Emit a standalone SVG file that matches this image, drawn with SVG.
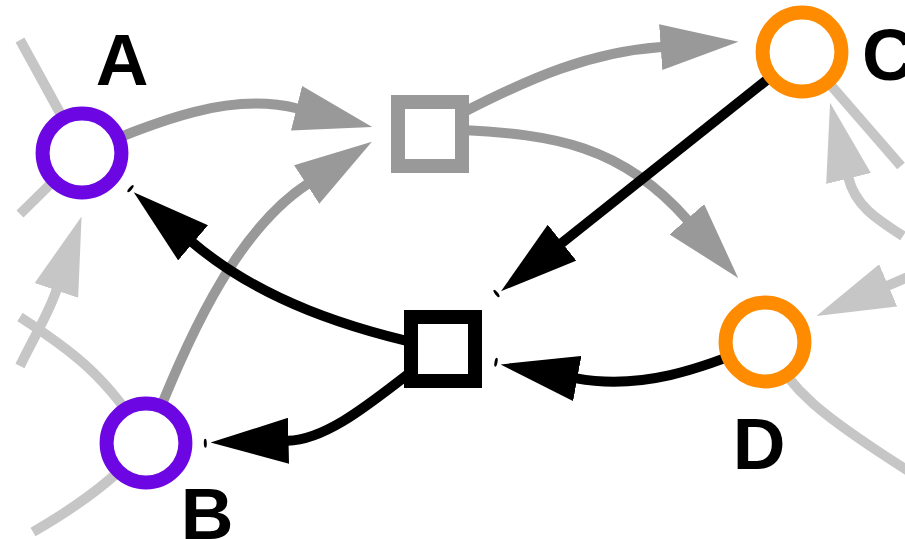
<svg xmlns="http://www.w3.org/2000/svg" width="905" height="539" viewBox="0 0 905 539">
<style>
.e{fill:none;stroke-width:10;stroke-linecap:butt}
.g{stroke:#999999}
.l{stroke:#c6c6c6}
.k{stroke:#000000}
.ring{fill:#ffffff;stroke-width:14}
.p{stroke:#6c06e3}
.o{stroke:#ff8c00}
.sq{fill:#ffffff;stroke-width:14}
.lbl{font-family:"Liberation Sans",Arial,sans-serif;font-weight:bold;font-size:73px;fill:#000000}
</style>
<defs>
<marker id="ag" viewBox="0 0 78 46" markerWidth="78" markerHeight="46" refX="1" refY="23" orient="auto" markerUnits="userSpaceOnUse"><path d="M0,0 L78,23 L0,46 Z" fill="#999999"/></marker>
<marker id="al" viewBox="0 0 78 46" markerWidth="78" markerHeight="46" refX="1" refY="23" orient="auto" markerUnits="userSpaceOnUse"><path d="M0,0 L78,23 L0,46 Z" fill="#c6c6c6"/></marker>
<marker id="ak" viewBox="0 0 78 46" markerWidth="78" markerHeight="46" refX="1" refY="23" orient="auto" markerUnits="userSpaceOnUse"><path d="M0,0 L78,23 L0,46 Z" fill="#000000"/></marker>
</defs>
<g id="connectors">
<path class="e l" d="M20,40 L82,153"/>
<path class="e l" d="M20,214 L82,153"/>
<path class="e l" d="M20,366 C35,335 48,315 56.7,289.5" marker-end="url(#al)"/>
<path class="e l" d="M20,317 C60,343 110,375 146,443"/>
<path class="e l" d="M146,443 C120,475 80,505 33,532"/>
<path class="e l" d="M802,52 L901,166"/>
<path class="e l" d="M903,236 C875,218 855,205 848.3,177.5" marker-end="url(#al)"/>
<path class="e l" d="M915,274 L887.3,285.8" marker-end="url(#al)"/>
<path class="e l" d="M765,342 C790,390 820,415 910,472"/>
<path class="e g" d="M82,153 C160,120 230,91.7 297.5,108.5" marker-end="url(#ag)"/>
<path class="e g" d="M146,443 C180,360 227.5,236.5 307.5,184" marker-end="url(#ag)"/>
<path class="e g" d="M462,113 C530,78 590,52 661.7,47" marker-end="url(#ag)"/>
<path class="e g" d="M462,130 C552,134.5 621.7,144.7 687.5,220" marker-end="url(#ag)"/>
<path class="e k" d="M802,52 L561.3,243.3" marker-end="url(#ak)"/>
<path class="e k" d="M765,342 C700,370 640,390 576.3,378.3" marker-end="url(#ak)"/>
<path class="e k" d="M443,349 C350,330 260,300 192.3,242.2" marker-end="url(#ak)"/>
<path class="e k" d="M443,349 C395,380 337,439.7 287.5,440.8" marker-end="url(#ak)"/>
<ellipse cx="130.5" cy="188.7" rx="1.5" ry="4.5" transform="rotate(-139.5 130.5 188.7)" fill="#000"/>
<ellipse cx="205.3" cy="443.3" rx="1.5" ry="4.5" transform="rotate(178.5 205.3 443.3)" fill="#000"/>
<ellipse cx="496.5" cy="293.5" rx="1.5" ry="4.5" transform="rotate(141.6 496.5 293.5)" fill="#000"/>
<ellipse cx="496" cy="362.2" rx="1.5" ry="4.5" transform="rotate(-169.3 496 362.2)" fill="#000"/>
</g>
<g id="node-A"><circle class="ring p" cx="82" cy="153" r="39.4"/><text class="lbl" x="122" y="85" text-anchor="middle">A</text></g>
<g id="node-B"><circle class="ring p" cx="146" cy="443" r="39.4"/><text class="lbl" x="207" y="539" text-anchor="middle">B</text></g>
<g id="node-C"><circle class="ring o" cx="802" cy="52" r="39.4"/><text class="lbl" x="862" y="80">C</text></g>
<g id="node-D"><circle class="ring o" cx="765" cy="342" r="39.4"/><text class="lbl" x="759" y="469" text-anchor="middle">D</text></g>
<g id="node-sq1"><rect class="sq" x="398" y="102" width="64" height="64" stroke="#999999"/></g>
<g id="node-sq2"><rect class="sq" x="411" y="317" width="64" height="64" stroke="#000000"/></g>
</svg>
